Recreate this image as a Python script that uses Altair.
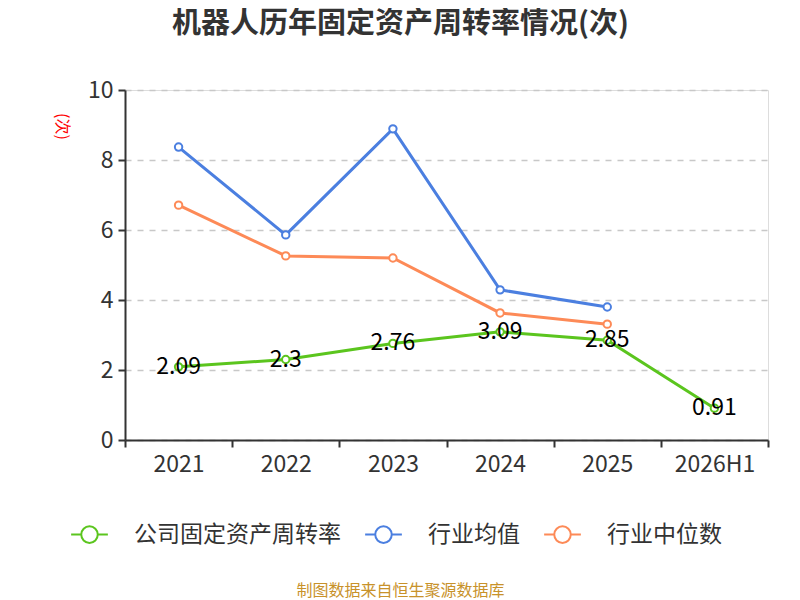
import altair as alt
import pandas as pd

years = ['2021', '2022', '2023', '2024', '2025', '2026H1']
company = [2.09, 2.3, 2.76, 3.09, 2.85, 0.91]
ind_mean = [8.37, 5.86, 8.89, 4.29, 3.80]
ind_median = [6.71, 5.26, 5.20, 3.63, 3.31]

s_company = '公司固定资产周转率'
s_mean = '行业均值'
s_median = '行业中位数'
series = [s_company, s_mean, s_median]
colors = ['#5bc51e', '#4b7fe0', '#fd8a57']

rows = []
for name, vals in [(s_company, company), (s_mean, ind_mean), (s_median, ind_median)]:
    for y, v in zip(years, vals):
        rows.append({'year': y, 'value': v, 'series': name})
df = pd.DataFrame(rows)

FONT = 'Noto Sans CJK SC'
LEGEND_SYMBOL = 'M-1,0L-0.45,0M0.45,0L1,0M-0.45,0A0.45,0.45 0 1,1 0.45,0A0.45,0.45 0 1,1 -0.45,0Z'

x = alt.X('year:N', sort=years, scale=alt.Scale(paddingInner=0, paddingOuter=0),
          axis=alt.Axis(title='制图数据来自恒生聚源数据库', titleColor='#c8922a',
                        titleFontSize=16, titleFontWeight='normal', titleX=275, titleY=150,
                        titleBaseline='middle',
                        labelAngle=0, labelFontSize=23, labelColor='#333333', labelPadding=6,
                        tickBand='extent', tickSize=7, tickColor='#333333', tickWidth=2,
                        domainColor='#333333', domainWidth=2, grid=False))
y = alt.Y('value:Q', scale=alt.Scale(domain=[0, 10], nice=False),
          axis=alt.Axis(title='(次)', titleColor='#ff0000', titleFontSize=16,
                        titleFontWeight='normal', titleAngle=90, titleX=-64, titleY=36,
                        titleBaseline='middle',
                        values=[0, 2, 4, 6, 8, 10], labelFontSize=23, labelColor='#333333',
                        labelPadding=5, tickSize=7, tickColor='#333333', tickWidth=2,
                        domainColor='#333333', domainWidth=2,
                        gridDash=[6, 6], gridColor='#c8c8c8', gridWidth=1.5))
scale = alt.Scale(domain=series, range=colors)
color = alt.Color('series:N', scale=scale,
                  legend=alt.Legend(title=None, orient='none', legendX=-55, legendY=425,
                                    direction='horizontal', columnPadding=20,
                                    symbolType=LEGEND_SYMBOL, symbolSize=1350,
                                    symbolStrokeWidth=2, symbolFillColor='white',
                                    labelFontSize=23, labelColor='#333333', labelOffset=25,
                                    labelLimit=400, labelFont=FONT))

lines = alt.Chart(df).mark_line(strokeWidth=3).encode(x=x, y=y, color=color)
points = alt.Chart(df).mark_point(shape='circle', filled=True, size=55, strokeWidth=2,
                                  opacity=1).encode(
    x=x, y=y, fill=alt.value('white'),
    stroke=alt.Stroke('series:N', scale=scale, legend=None))
labels = alt.Chart(df).transform_filter(alt.datum.series == s_company).mark_text(
    fontSize=23, color='black', font=FONT, baseline='middle', align='center'
).encode(x=alt.X('year:N', sort=years), y='value:Q', text='value:Q')

chart = alt.layer(lines, points, labels).properties(
    width=643, height=350,
    autosize=alt.AutoSizeParams(type='none'),
    padding={'left': 117, 'top': 82, 'right': 24, 'bottom': 160},
    title=alt.Title('机器人历年固定资产周转率情况(次)', fontSize=29, fontWeight='bold',
                    color='#333333', font=FONT, anchor='middle', frame='group',
                    dx=-46, offset=40)
).configure_view(stroke=None).configure(font=FONT)

chart.save('out.html', embed_options={'renderer': 'svg', 'actions': False})
